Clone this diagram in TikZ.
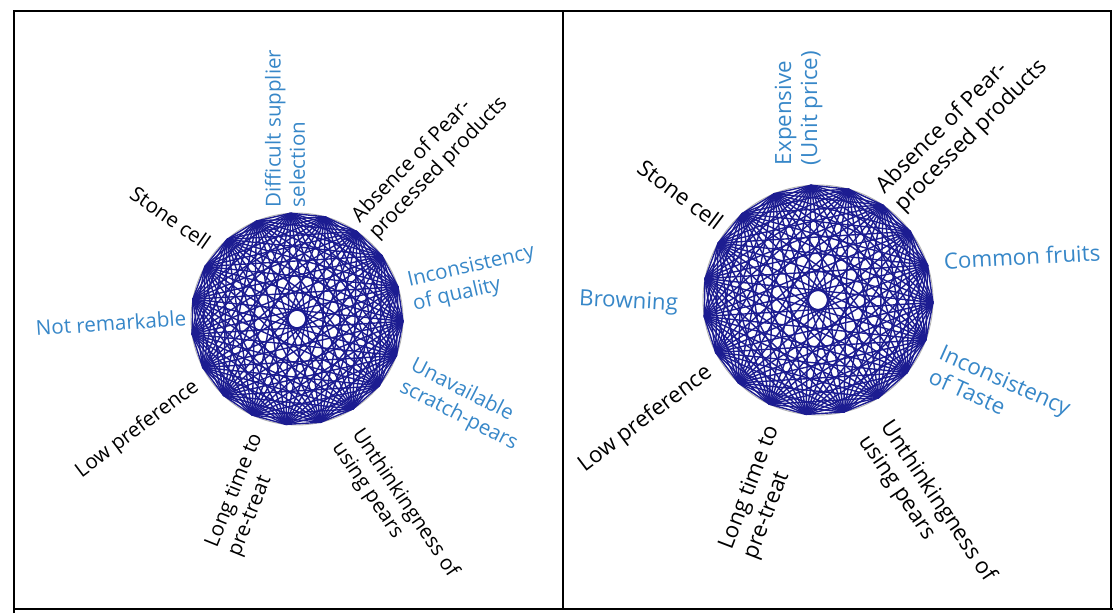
\documentclass[tikz,border=0pt]{standalone}
\usepackage{fontspec}
\setmainfont{Open Sans}
\definecolor{netblue}{RGB}{28,28,145}
\definecolor{labblue}{RGB}{55,135,200}

\begin{document}
\begin{tikzpicture}[
	frame/.style={line width=0.8pt},
	edge/.style={netblue, line width=0.8pt},
	rim/.style={gray!60, line width=0.5pt},
	labL/.style={align=left, inner sep=0pt, font=\fontsize{11.7}{13.7}\selectfont},
	labR/.style={align=left, inner sep=0pt, font=\fontsize{12.7}{14.8}\selectfont},
	blu/.style={text=labblue}
]
	\useasboundingbox (0,0) rectangle (22.26,12.26);
	% table frame
	\draw[frame] (0.28,0) -- (0.28,12.04) -- (22.22,12.04) -- (22.22,0.08);
	\draw[frame] (11.26,12.04) -- (11.26,0.08);
	\draw[frame] (0.28,0.08) -- (22.26,0.08);
	% left network
	\coordinate (lc) at (5.94,5.88);
	\draw[rim] (lc) circle (2.12);
	\foreach \i in {0,...,18} \path (lc) ++(-96+\i*360/19:2.12) coordinate (l\i);
	\foreach \i in {0,...,17} {
		\pgfmathtruncatemacro\nxt{\i+1}
		\foreach \j in {\nxt,...,18} \draw[edge] (l\i) -- (l\j);
	}
	% left labels
	\node[labL, blu, rotate=90] (diffsup) at (5.70,9.69) {Difficult supplier\\selection};
	\node[labL, rotate=46] (absenceL) at (8.60,9.06) {Absence of Pear-\\processed products};
	\node[labL, rotate=-35] (stoneL) at (3.41,7.91) {Stone cell};
	\node[labL, blu, rotate=13] (inconsq) at (9.48,6.68) {Inconsistency\\of quality};
	\node[labL, blu, rotate=4] (notrem) at (2.22,5.80) {Not remarkable};
	\node[labL, blu, rotate=-27] (unavail) at (9.28,4.16) {Unavailable\\scratch-pears};
	\node[labL, rotate=37] (lowprefL) at (2.75,3.67) {Low preference};
	\node[labL, rotate=68] (longtimeL) at (4.92,2.36) {Long time to\\pre-treat};
	\node[labL, rotate=-56] (unthinkL) at (7.90,2.06) {Unthinkingness of\\using pears};
	% right network
	\coordinate (rc) at (16.36,6.26);
	\draw[rim] (rc) circle (2.30);
	\foreach \i in {0,...,18} \path (rc) ++(-96+\i*360/19:2.30) coordinate (r\i);
	\foreach \i in {0,...,17} {
		\pgfmathtruncatemacro\nxt{\i+1}
		\foreach \j in {\nxt,...,18} \draw[edge] (r\i) -- (r\j);
	}
	% right labels
	\node[labR, blu, rotate=90] (expens) at (15.97,10.10) {Expensive\\(Unit price)};
	\node[labR, rotate=45] (absenceR) at (19.24,9.72) {Absence of Pear-\\processed products};
	\node[labR, rotate=-37] (stoneR) at (13.61,8.37) {Stone cell};
	\node[labR, blu, rotate=3] (common) at (20.44,7.13) {Common fruits};
	\node[labR, blu, rotate=-3] (brown) at (12.57,6.21) {Browning};
	\node[labR, blu, rotate=-24] (inconst) at (20.00,4.42) {Inconsistency\\of Taste};
	\node[labR, rotate=37] (lowprefR) at (12.91,3.88) {Low preference};
	\node[labR, rotate=69] (longtimeR) at (15.24,2.41) {Long time to\\pre-treat};
	\node[labR, rotate=-56] (unthinkR) at (18.54,2.08) {Unthinkingness of\\using pears};
\end{tikzpicture}
\end{document}
